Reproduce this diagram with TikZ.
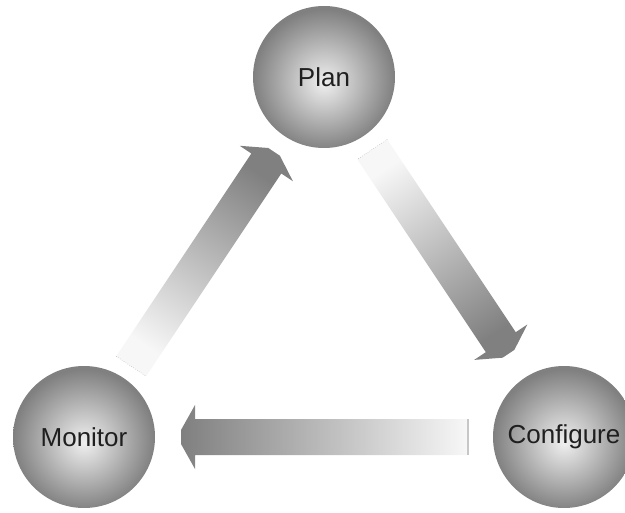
\documentclass[tikz,border=0pt]{standalone}
\usepackage{fontspec}
\setmainfont{Liberation Sans}
\usetikzlibrary{calc}

\pgfdeclareradialshading{sphere}{\pgfpoint{0bp}{-2bp}}{%
  color(0bp)=(black!6); color(12bp)=(black!27); color(25bp)=(black!50); color(50bp)=(black!50)}

\tikzset{
  phase/.style={circle, minimum size=5.68cm, inner sep=0pt, shade, shading=sphere,
    font=\fontsize{29.6}{34}\selectfont, text=black!88},
  flowfill/.style={top color=black!50, bottom color=black!3},
  tailline/.style={black!30, line width=0.6pt, dash pattern=on 0.6pt off 2pt},
  tailsolid/.style={black!22, line width=1.2pt},
}

% shaded block arrow: [tail style] from, to, gap at tail, gap at head
\newcommand{\flowarrow}[5][tailline]{%
  \pgfmathanglebetweenpoints{\pgfpointanchor{#2}{center}}{\pgfpointanchor{#3}{center}}%
  \pgfmathsetmacro{\flowangle}{\pgfmathresult-90}%
  \coordinate (ft) at ($(#2)!#4!(#3)$);
  \coordinate (fw) at ($(#3)!#5+0.56cm!(#2)$);
  \coordinate (fh) at ($(#3)!#5!(#2)$);
  \shade[flowfill, shading angle=\flowangle]
    ($(ft)!0.72cm!90:(#3)$) -- ($(fw)!0.72cm!90:(#3)$)
    -- ($(fw)!1.28cm!90:(#3)$) -- ($(fh)!0.28cm!90:(#3)$)
    -- ($(fh)!0.28cm!-90:(#3)$) -- ($(fw)!1.28cm!-90:(#3)$)
    -- ($(fw)!0.72cm!-90:(#3)$) -- ($(ft)!0.72cm!-90:(#3)$) -- cycle;
  \draw[#1] ($(ft)!0.72cm!90:(#3)$) -- ($(ft)!0.72cm!-90:(#3)$);
}

\begin{document}
\begin{tikzpicture}
    \useasboundingbox (0, 0) rectangle (25, 20.48);

    \node[phase] (plan) at (12.96, 17.4) {Plan};
    \node[phase] (monitor) at (3.36, 3.0) {Monitor};
    \node[phase] (configure) at (22.56, 3.0) {Configure};

    \flowarrow{plan}{configure}{3.48cm}{4.0cm}
    \flowarrow[tailsolid]{configure}{monitor}{3.84cm}{3.88cm}
    \flowarrow{monitor}{plan}{3.4cm}{3.6cm}
\end{tikzpicture}
\end{document}
